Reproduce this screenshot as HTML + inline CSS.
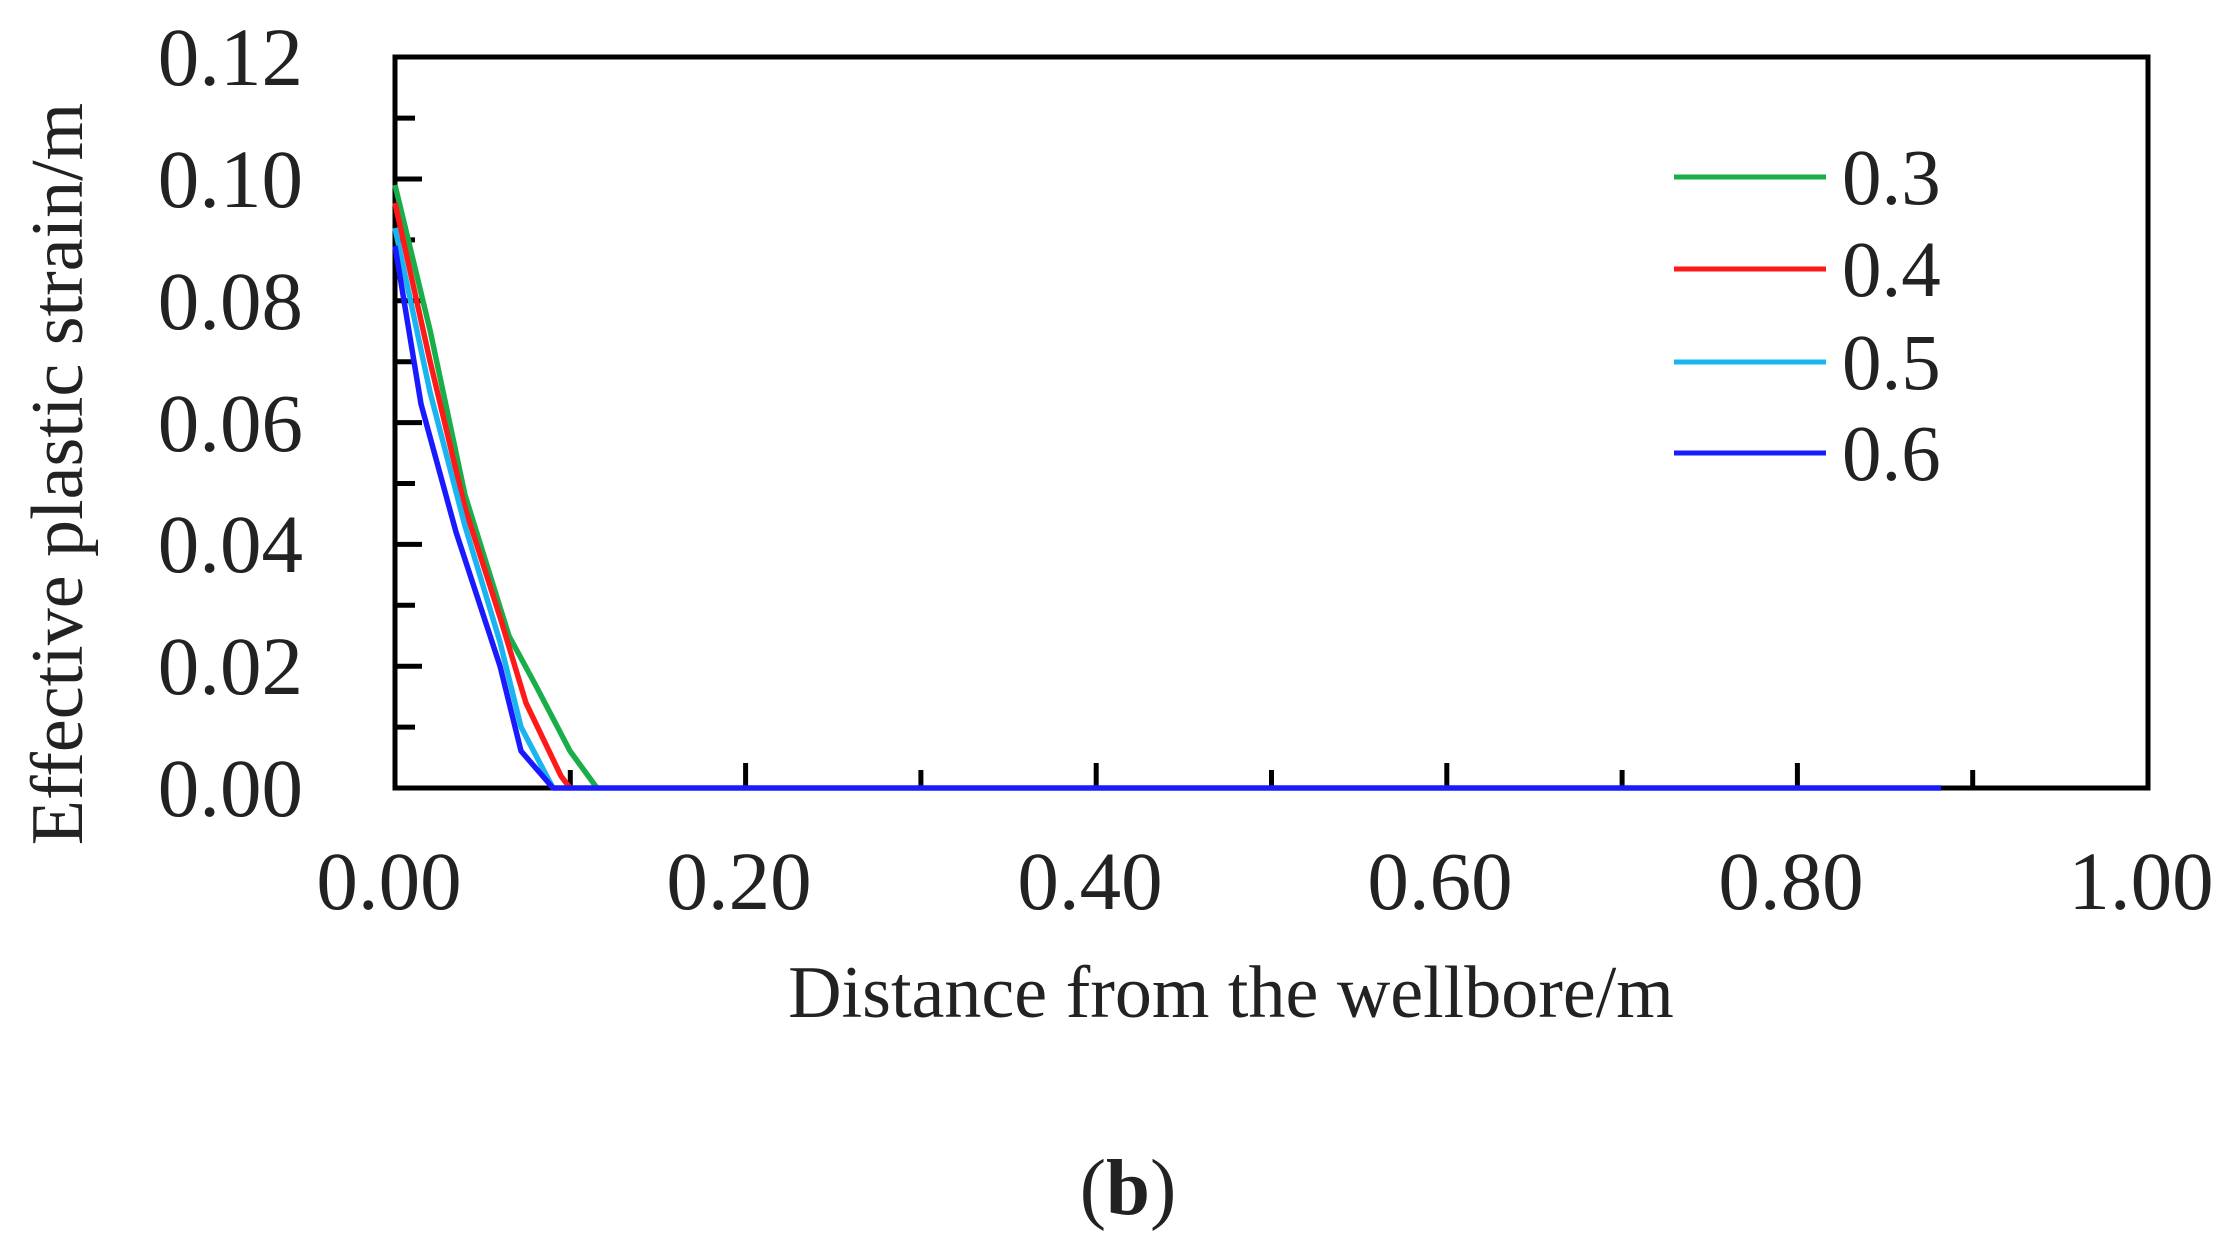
<!DOCTYPE html>
<html><head><meta charset="utf-8"><style>
html,body{margin:0;padding:0;background:#fff}
svg{display:block}
text{font-family:"Liberation Serif",serif;fill:#222}
</style></head><body>
<svg width="2219" height="1240" viewBox="0 0 2219 1240" xmlns="http://www.w3.org/2000/svg">
<g stroke="#000" stroke-width="5">
<line x1="395" y1="727.1" x2="415" y2="727.1"/>
<line x1="395" y1="666.2" x2="422" y2="666.2"/>
<line x1="395" y1="605.3" x2="415" y2="605.3"/>
<line x1="395" y1="544.4" x2="422" y2="544.4"/>
<line x1="395" y1="483.5" x2="415" y2="483.5"/>
<line x1="395" y1="422.6" x2="422" y2="422.6"/>
<line x1="395" y1="361.7" x2="415" y2="361.7"/>
<line x1="395" y1="300.8" x2="422" y2="300.8"/>
<line x1="395" y1="239.9" x2="415" y2="239.9"/>
<line x1="395" y1="179" x2="422" y2="179"/>
<line x1="395" y1="118.1" x2="415" y2="118.1"/>
<line x1="570.3" y1="788" x2="570.3" y2="770"/>
<line x1="745.6" y1="788" x2="745.6" y2="763"/>
<line x1="920.9" y1="788" x2="920.9" y2="770"/>
<line x1="1096.2" y1="788" x2="1096.2" y2="763"/>
<line x1="1271.5" y1="788" x2="1271.5" y2="770"/>
<line x1="1446.8" y1="788" x2="1446.8" y2="763"/>
<line x1="1622.1" y1="788" x2="1622.1" y2="770"/>
<line x1="1797.4" y1="788" x2="1797.4" y2="763"/>
<line x1="1972.7" y1="788" x2="1972.7" y2="770"/>
</g>
<rect x="395" y="57" width="1753" height="731" fill="none" stroke="#000" stroke-width="5"/>
<g fill="none" stroke-width="5.5" stroke-linejoin="round">
<polyline stroke="#1aae4a" points="395,185 430,330 465,495 509,636 535,684 570,751 597,788"/>
<polyline stroke="#ff1a1a" points="395,203 430,361 465,508 500,617 526,703 561,776 570,788"/>
<polyline stroke="#1ab4f0" points="395,228 430,392 465,526 500,642 521,727 553,788"/>
<polyline stroke="#1a1aff" points="395,246 421,404 456,532 500,666 521,751 553,788 1941,788"/>
</g>
<g font-size="83" text-anchor="end">
<text x="303" y="816">0.00</text>
<text x="303" y="694">0.02</text>
<text x="303" y="572">0.04</text>
<text x="303" y="451">0.06</text>
<text x="303" y="329">0.08</text>
<text x="303" y="207">0.10</text>
<text x="303" y="85">0.12</text>
</g>
<g font-size="83" text-anchor="middle">
<text x="389" y="909">0.00</text>
<text x="739" y="909">0.20</text>
<text x="1090" y="909">0.40</text>
<text x="1440" y="909">0.60</text>
<text x="1791" y="909">0.80</text>
<text x="2141" y="909">1.00</text>
</g>
<g font-size="74" text-anchor="middle">
<text x="1231" y="1017">Distance from the wellbore/m</text>
<text transform="translate(82,474) rotate(-90)">Effective plastic strain/m</text>
<text x="1128" y="1214" font-size="79" font-weight="bold"><tspan font-weight="normal">(</tspan>b<tspan font-weight="normal">)</tspan></text>
</g>
<g stroke-width="5">
<line x1="1674" y1="177" x2="1826" y2="177" stroke="#1aae4a"/>
<line x1="1674" y1="269" x2="1826" y2="269" stroke="#ff1a1a"/>
<line x1="1674" y1="362" x2="1826" y2="362" stroke="#1ab4f0"/>
<line x1="1674" y1="453" x2="1826" y2="453" stroke="#1a1aff"/>
</g>
<g font-size="79">
<text x="1842" y="204">0.3</text>
<text x="1842" y="296">0.4</text>
<text x="1842" y="389">0.5</text>
<text x="1842" y="480">0.6</text>
</g>
</svg>
</body></html>
